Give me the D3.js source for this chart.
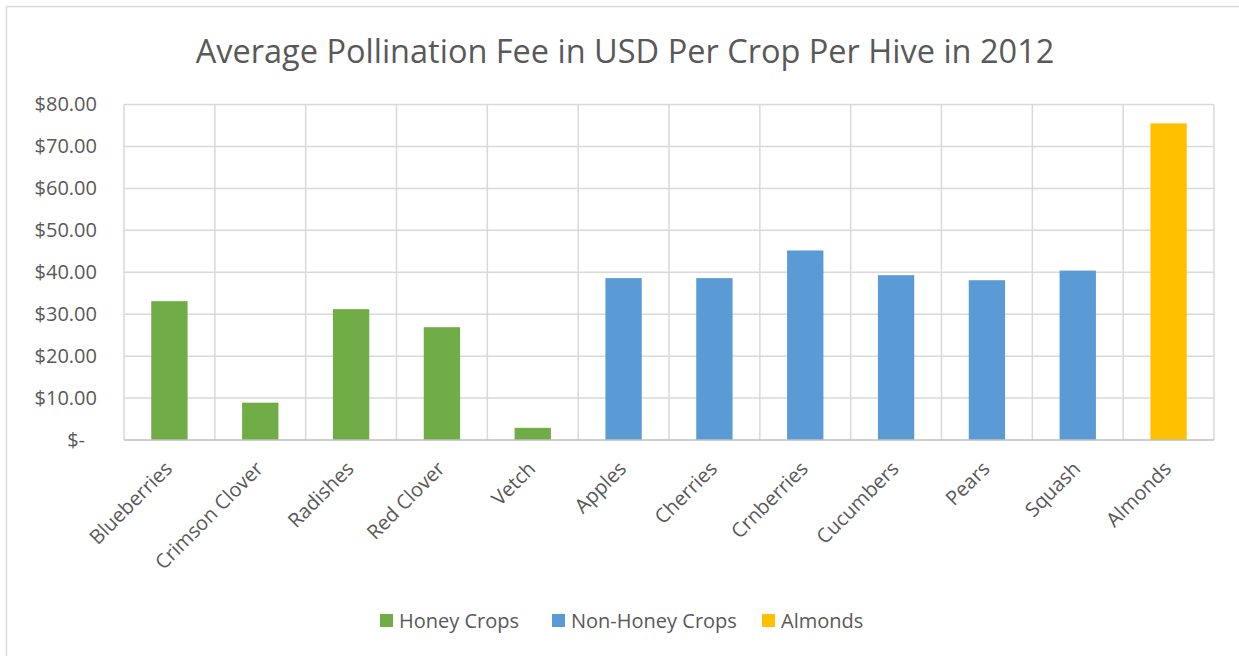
<!DOCTYPE html>
<html>
<head>
<meta charset="utf-8">
<script src="https://cdn.jsdelivr.net/npm/d3@7"></script>
<style>
  html, body { margin: 0; padding: 0; background: #fff; }
  svg { display: block; font-family: "Open Sans", sans-serif; }
</style>
</head>
<body>
<svg id="chart" width="1239" height="656"></svg>
<script>
const categories = ["Blueberries", "Crimson Clover", "Radishes", "Red Clover", "Vetch",
  "Apples", "Cherries", "Crnberries", "Cucumbers", "Pears", "Squash", "Almonds"];
const values = [33.1, 8.9, 31.2, 26.9, 2.9, 38.6, 38.6, 45.2, 39.3, 38.1, 40.4, 75.5];
const groups = ["Honey Crops", "Honey Crops", "Honey Crops", "Honey Crops", "Honey Crops",
  "Non-Honey Crops", "Non-Honey Crops", "Non-Honey Crops", "Non-Honey Crops", "Non-Honey Crops", "Non-Honey Crops",
  "Almonds"];
const seriesNames = ["Honey Crops", "Non-Honey Crops", "Almonds"];
const seriesColors = ["#70AD47", "#5B9BD5", "#FFC000"];
const yTicks = [0, 10, 20, 30, 40, 50, 60, 70, 80];
const titleText = "Average Pollination Fee in USD Per Crop Per Hive in 2012";

const svg = d3.select("#chart");
const W = 1239, H = 656;
const plot = { left: 124, right: 1214, top: 104.5, bottom: 440 };
const textColor = "#595959";

// outer chart border
svg.append("rect").attr("x", 6.5).attr("y", 6.5).attr("width", W + 20).attr("height", H + 20)
  .attr("fill", "none").attr("stroke", "#d9d9d9").attr("stroke-width", 1.5);

const color = d3.scaleOrdinal().domain(seriesNames).range(seriesColors);
const x = d3.scaleBand().domain(categories).range([plot.left, plot.right]).paddingInner(0).paddingOuter(0);
const y = d3.scaleLinear().domain([0, 80]).range([plot.bottom, plot.top]);

// horizontal gridlines
svg.append("g").selectAll("line").data(yTicks.filter(d => d > 0)).join("line")
  .attr("x1", plot.left).attr("x2", plot.right)
  .attr("y1", d => y(d)).attr("y2", d => y(d))
  .attr("stroke", "#d9d9d9").attr("stroke-width", 1.5);

// vertical gridlines at category boundaries
const bounds = categories.map(c => x(c)).concat([plot.right]);
svg.append("g").selectAll("line").data(bounds).join("line")
  .attr("x1", d => d).attr("x2", d => d)
  .attr("y1", plot.top).attr("y2", plot.bottom)
  .attr("stroke", "#d9d9d9").attr("stroke-width", 1.5);

// bars
const barW = x.bandwidth() / 2.5;
svg.append("g").selectAll("rect").data(categories).join("rect")
  .attr("x", d => x(d) + (x.bandwidth() - barW) / 2)
  .attr("width", barW)
  .attr("y", (d, i) => y(values[i]))
  .attr("height", (d, i) => y(0) - y(values[i]))
  .attr("fill", (d, i) => color(groups[i]));

// x axis line
svg.append("line").attr("x1", plot.left).attr("x2", plot.right)
  .attr("y1", y(0)).attr("y2", y(0))
  .attr("stroke", "#bfbfbf").attr("stroke-width", 1.5);

// y axis labels
const yAxis = d3.axisLeft(y).tickValues(yTicks).tickSize(0).tickPadding(27)
  .tickFormat(d => d === 0 ? "$-" : "$" + d3.format(".2f")(d));
const gy = svg.append("g").attr("transform", `translate(${plot.left},0)`).call(yAxis);
gy.select(".domain").remove();
gy.selectAll("text").attr("fill", textColor).style("font-size", "20px")
  .style("font-family", "'Open Sans', sans-serif")
  .attr("dx", d => d === 0 ? -12 : 0);

// x axis labels
const xAxis = d3.axisBottom(x).tickSize(0).tickPadding(0);
const gx = svg.append("g").attr("transform", `translate(0,${plot.bottom})`).call(xAxis);
gx.select(".domain").remove();
gx.selectAll("text")
  .attr("fill", textColor).style("font-size", "20px")
  .style("font-family", "'Open Sans', sans-serif")
  .attr("text-anchor", "end")
  .attr("transform", "translate(4,30) rotate(-45)")
  .attr("dy", "0").attr("y", 0);

// title
svg.append("text").attr("x", 625).attr("y", 63).attr("text-anchor", "middle")
  .attr("fill", textColor).style("font-size", "32.5px")
  .text(titleText);

// legend
const legendX = [380, 552, 762];
const lg = svg.append("g").selectAll("g").data(seriesNames).join("g")
  .attr("transform", (d, i) => `translate(${legendX[i]},614)`);
lg.append("rect").attr("width", 13).attr("height", 13).attr("fill", d => color(d));
lg.append("text").attr("x", 19).attr("y", 7).attr("dy", "0.35em")
  .attr("fill", textColor).style("font-size", "20px").text(d => d);
</script>
</body>
</html>
